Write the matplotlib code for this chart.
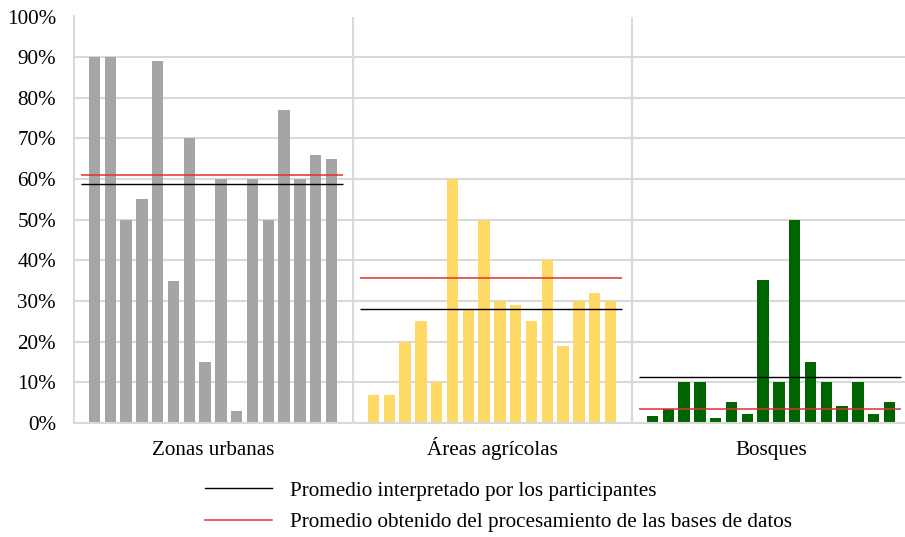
import matplotlib
matplotlib.use("Agg")
import matplotlib.pyplot as plt
from matplotlib.lines import Line2D
import numpy as np

categories = ["Zonas urbanas", "Áreas agrícolas", "Bosques"]
urbanas = [90, 90, 50, 55, 89, 35, 70, 15, 60, 3, 60, 50, 77, 60, 66, 65]
agricolas = [7, 7, 20, 25, 10, 60, 28, 50, 30, 29, 25, 40, 19, 30, 32, 30]
bosques = [1.7, 3.4, 10, 10, 1.2, 5.2, 2.2, 35.3, 10, 50, 15, 10, 4.2, 10, 2.2, 5.2]
prom_participantes = [58.8, 28.0, 11.2]
prom_bases = [60.9, 35.6, 3.4]
legend_labels = ["Promedio interpretado por los participantes",
                 "Promedio obtenido del procesamiento de las bases de datos"]
yticks = list(range(0, 101, 10))

colors = ["#a5a5a5", "#ffd966", "#006400"]

plt.rcParams['font.family'] = ['Liberation Serif', 'DejaVu Serif']
plt.rcParams['font.size'] = 15.2

fig = plt.figure(figsize=(9.05, 5.37), dpi=100)
ax = fig.add_axes([74/905, 1-423/537, (911-74)/905, (423-16.5)/537])

W = 17.66
off = 1.3
series = [urbanas, agricolas, bosques]
for g, vals in enumerate(series):
    x = g*W + off + np.arange(len(vals))
    ax.bar(x, vals, width=0.72, color=colors[g], zorder=2)
    ax.hlines(prom_bases[g], g*W + 0.45, g*W + 17.05, color="#e03030", lw=1.1, zorder=3)
    ax.hlines(prom_participantes[g], g*W + 0.45, g*W + 17.05, color="black", lw=1.0, zorder=3)

for g in (1, 2):
    ax.axvline(g*W, color="#d9d9d9", lw=1.5, zorder=1)

ax.set_xlim(0, 3*W)
ax.set_ylim(0, 100)
ax.set_yticks(yticks)
ax.set_yticklabels([f"{t}%" for t in yticks])
ax.yaxis.grid(True, color="#d9d9d9", lw=1.5, zorder=0)
ax.set_axisbelow(True)
ax.set_xticks([])
for g, name in enumerate(categories):
    ax.annotate(name, xy=(g*W + W/2, 0), xycoords=('data', 'axes fraction'),
                xytext=(0, -23.0), textcoords='offset points',
                ha='center', va='baseline')
ax.tick_params(axis='y', length=0, pad=13)
for s in ["top", "right"]:
    ax.spines[s].set_visible(False)
for s in ["left", "bottom"]:
    ax.spines[s].set_color("#d9d9d9")
    ax.spines[s].set_linewidth(1.5)

handles = [Line2D([], [], color="black", lw=1.0), Line2D([], [], color="#e03030", lw=1.1)]
fig.legend(handles, legend_labels, loc="upper left", bbox_to_anchor=(205/905, 1-481/537),
           frameon=False, handlelength=3.15, handletextpad=0.9, labelspacing=0.56,
           borderpad=0, borderaxespad=0)

fig.savefig("out.png", dpi=100)
